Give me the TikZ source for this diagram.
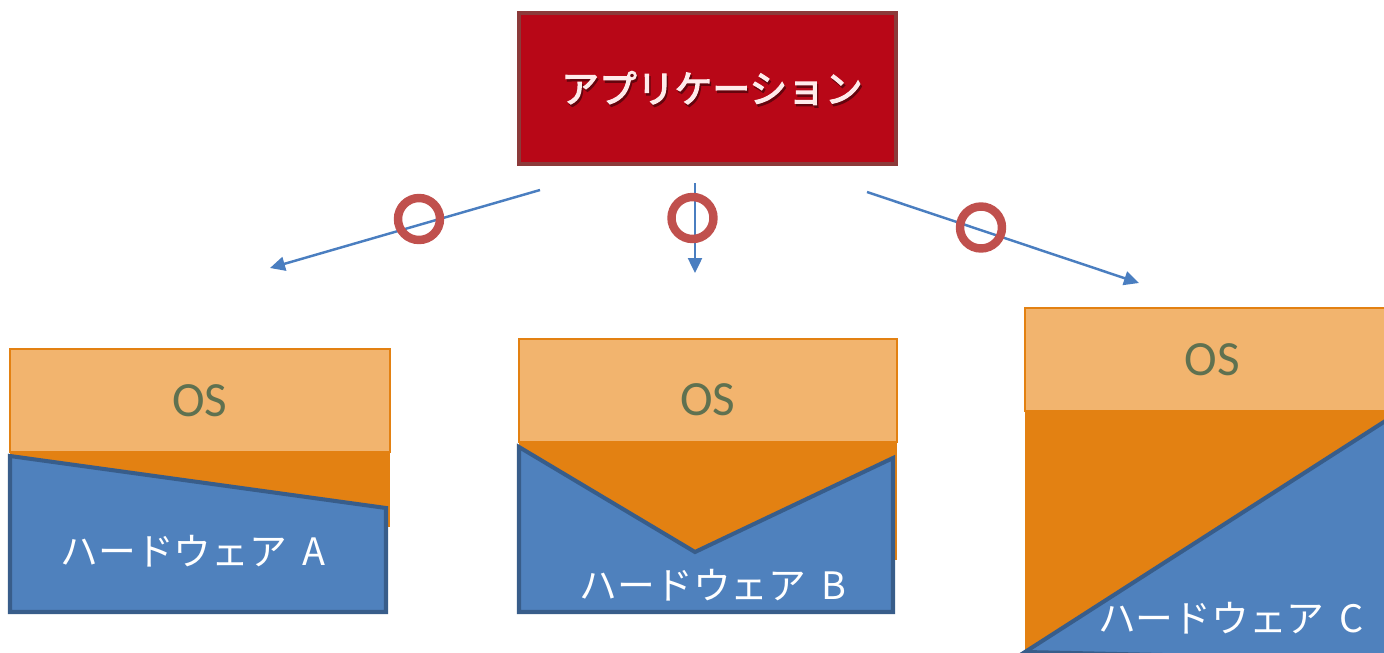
\documentclass[tikz,border=0pt]{standalone}
\usepackage{fontspec}
\setmainfont{Carlito}
\newfontfamily\jpfont{Noto Sans CJK JP}
\newfontfamily\jpheavy[FakeBold=3]{Noto Sans CJK JP}
\usetikzlibrary{arrows.meta}

\definecolor{appred}{HTML}{B80717}
\definecolor{appedge}{HTML}{8C3A3A}
\definecolor{oslight}{HTML}{F2B46E}
\definecolor{osdark}{HTML}{E38112}
\definecolor{hwblue}{HTML}{4F81BD}
\definecolor{hwedge}{HTML}{385D8A}
\definecolor{ostext}{HTML}{5F7150}
\definecolor{okred}{HTML}{C0504D}
\definecolor{arrowblue}{HTML}{4A7EC0}

\tikzset{
  appbox/.style={draw=appedge,line width=2.3pt,fill=appred,minimum width=7.54cm,minimum height=3.02cm},
  applabel/.style={text=white!92!red,font=\jpheavy\fontsize{21.5}{25}\selectfont},
  osbox/.style={draw=osdark,line width=1pt,fill=oslight,minimum height=2.06cm,inner sep=0pt,
    text=ostext,font=\fontsize{28}{32}\selectfont},
  under/.style={fill=osdark},
  hwshape/.style={draw=hwedge,line width=2.3pt,fill=hwblue,line join=miter},
  hwlabel/.style={text=white,font=\jpfont\fontsize{21.5}{25}\selectfont},
  okmark/.style={draw=okred,circle,line width=4.8pt,minimum size=0.84cm,inner sep=0pt},
  flow/.style={draw=arrowblue,line width=1.4pt,-{Triangle[length=0.3cm,width=0.28cm]}}
}

\begin{document}
\begin{tikzpicture}[x=0.02cm,y=-0.02cm]

    \useasboundingbox (0,0) rectangle (1384,653);
    \clip (0,0) rectangle (1384,653);

    % application
    \node at (707.5,88.5) [appbox] (app) {};
    \node at (713.5,90.5) [applabel,text=black!45!appred] {アプリケーション};
    \node at (712,88) [applabel] (applbl) {アプリケーション};

    % arrows
    \coordinate (s1) at (540,190);
    \coordinate (e1) at (270,268);
    \coordinate (s2) at (695,183);
    \coordinate (e2) at (695,273);
    \coordinate (s3) at (867,192);
    \coordinate (e3) at (1139,283);
    \draw[flow] (s1) -- (e1);
    \draw[flow] (s2) -- (e2);
    \draw[flow] (s3) -- (e3);
    \node at (419,219) [okmark] (ok1) {};
    \node at (692.5,218) [okmark] (ok2) {};
    \node at (981,227.5) [okmark] (ok3) {};

    % hardware A
    \fill[under] (10,450) rectangle (390,527);
    \node at (200,400.5) [osbox,minimum width=7.6cm] (osA) {OS};
    \draw[hwshape] (10,456) -- (386,508) -- (386,612) -- (10,612) -- cycle;
    \node at (193,551) [hwlabel] (hwA) {ハードウェア\hspace{0.4em}A};

    % hardware B
    \fill[under] (519,440) rectangle (897,560);
    \node at (708,390.5) [osbox,minimum width=7.56cm,text height=0.98cm,text depth=0pt] (osB) {OS};
    \draw[hwshape] (519,447) -- (695,552) -- (893,458) -- (893,612) -- (519,612) -- cycle;
    \node at (713,585) [hwlabel] (hwB) {ハードウェア\hspace{0.4em}B};

    % hardware C
    \fill[under] (1025,409) rectangle (1400,660);
    \node at (1212.5,359.5) [osbox,minimum width=7.5cm] (osC) {OS};
    \draw[hwshape] (1025,652) -- (1390,418) -- (1390,660) -- cycle;
    \node at (1231,618) [hwlabel] (hwC) {ハードウェア\hspace{0.4em}C};

\end{tikzpicture}
\end{document}
